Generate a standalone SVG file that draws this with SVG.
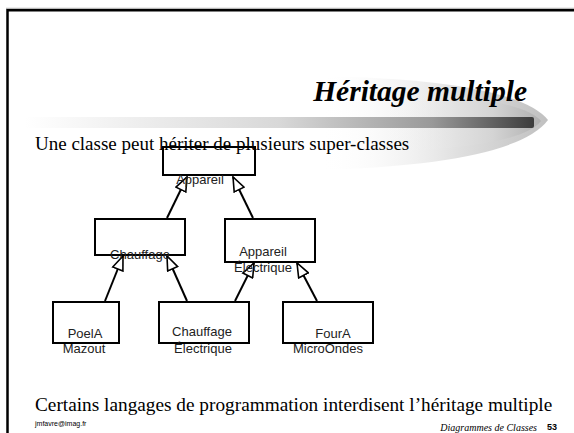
<svg xmlns="http://www.w3.org/2000/svg" width="574" height="433" viewBox="0 0 574 433">
<defs>
<style>
.box{fill:none;stroke:#000;stroke-width:2}
.lbl{font-family:"Liberation Sans",Arial,sans-serif;font-size:13px;fill:#222;text-anchor:middle}
.edge{stroke:#000;stroke-width:2;fill:none;marker-end:url(#tri)}
.serif{font-family:"Liberation Serif","Times New Roman",serif;fill:#000}
</style>
<marker id="tri" viewBox="0 0 16 13" refX="15" refY="6.5" markerWidth="16" markerHeight="13" markerUnits="userSpaceOnUse" orient="auto">
<path d="M1,1 L15,6.5 L1,12 Z" fill="#fff" stroke="#000" stroke-width="1.6"/>
</marker>
<linearGradient id="swoosh" x1="0" y1="0" x2="1" y2="0">
<stop offset="0" stop-color="#fff" stop-opacity="0"/>
<stop offset="0.6" stop-color="#e0e0e0"/>
<stop offset="1" stop-color="#c0c0c0"/>
</linearGradient>
<linearGradient id="swoosh2" x1="0" y1="0" x2="1" y2="0">
<stop offset="0" stop-color="#fff" stop-opacity="0"/>
<stop offset="0.7" stop-color="#d4d4d4"/>
<stop offset="1" stop-color="#b0b0b0"/>
</linearGradient>
<linearGradient id="bar" x1="0" y1="0" x2="1" y2="0">
<stop offset="0" stop-color="#fff"/>
<stop offset="0.5" stop-color="#d8d8d8"/>
<stop offset="0.8" stop-color="#999"/>
<stop offset="1" stop-color="#3c3c3c"/>
</linearGradient>
</defs>
<rect width="574" height="433" fill="#fff"/>
<!-- frame -->
<line x1="6" y1="8.3" x2="574" y2="8.3" stroke="#b8b8b8" stroke-width="1.2"/>
<path d="M7.5,433 V10.2 H574" fill="none" stroke="#000" stroke-width="2.5"/>
<!-- swoosh decoration -->
<path d="M320,76 Q515,80 548,120 Q515,164 320,170 Z" fill="url(#swoosh)"/>
<path d="M380,92 Q520,96 541,121 Q520,148 380,152 Z" fill="url(#swoosh2)"/>
<rect x="25" y="117" width="509" height="11" rx="2" fill="url(#bar)"/>
<text class="serif" x="527" y="101" font-size="29.5" font-weight="bold" font-style="italic" text-anchor="end">Héritage multiple</text>
<text class="serif" x="35" y="150" font-size="19">Une classe peut hériter de plusieurs super-classes</text>
<!-- connectors -->
<g id="connectors">
<line class="edge" x1="167" y1="218" x2="187" y2="177"/>
<line class="edge" x1="253" y1="218" x2="233" y2="177"/>
<line class="edge" x1="105" y1="301" x2="123" y2="256"/>
<line class="edge" x1="187" y1="301" x2="167" y2="256"/>
<line class="edge" x1="235" y1="301" x2="254" y2="263"/>
<line class="edge" x1="317" y1="301" x2="297" y2="263"/>
</g>
<g id="appareil">
<rect class="box" x="163" y="147" width="92" height="28"/>
<text class="lbl" x="200" y="184">Appareil</text>
</g>
<g id="chauffage">
<rect class="box" x="95" y="219" width="90" height="36"/>
<text class="lbl" x="140" y="259">Chauffage</text>
</g>
<g id="appareil-electrique">
<rect class="box" x="225" y="219" width="90" height="43"/>
<text class="lbl" x="263" y="256">Appareil</text>
<text class="lbl" x="263" y="272">Électrique</text>
</g>
<g id="poela-mazout">
<rect class="box" x="53" y="302" width="66" height="41"/>
<text class="lbl" x="85" y="338">PoelA</text>
<text class="lbl" x="84" y="353">Mazout</text>
</g>
<g id="chauffage-electrique">
<rect class="box" x="159" y="302" width="90" height="41"/>
<text class="lbl" x="202" y="336">Chauffage</text>
<text class="lbl" x="203" y="353">Électrique</text>
</g>
<g id="foura-microondes">
<rect class="box" x="283" y="302" width="90" height="41"/>
<text class="lbl" x="333" y="338">FourA</text>
<text class="lbl" x="328" y="353">MicroOndes</text>
</g>
<text class="serif" x="35" y="411" font-size="19.3">Certains langages de programmation interdisent l’héritage multiple</text>
<text x="35" y="426" font-family="'Liberation Sans',Arial,sans-serif" font-size="7" fill="#000">jmfavre@imag.fr</text>
<text class="serif" x="537" y="431" font-size="10" font-style="italic" text-anchor="end">Diagrammes de Classes</text>
<text x="547" y="430" font-family="'Liberation Sans',Arial,sans-serif" font-size="9" font-weight="bold" fill="#000">53</text>
</svg>
